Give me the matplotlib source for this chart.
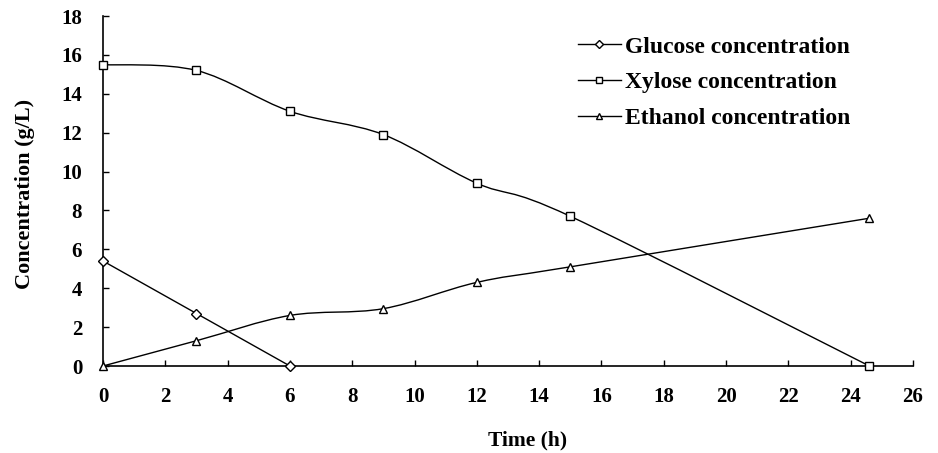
import matplotlib.pyplot as plt
from matplotlib.path import Path
from matplotlib.patches import PathPatch
from matplotlib.lines import Line2D

# Fermentation time course
time_glucose = [0, 3, 6]
glucose = [5.4, 2.7, 0.0]

time_long = [0, 3, 6, 9, 12, 15, 24.6]
xylose = [15.5, 15.2, 13.1, 11.9, 9.4, 7.7, 0.0]
ethanol = [0.0, 1.3, 2.6, 2.95, 4.3, 5.1, 7.6]

x_ticks = list(range(0, 27, 2))
y_ticks = list(range(0, 19, 2))

plt.rcParams['font.family'] = ['Liberation Serif', 'DejaVu Serif']
plt.rcParams['font.weight'] = 'bold'


def smooth_path(xs, ys):
    # cubic Bezier through the points, Catmull-Rom style control points
    pts = list(zip(xs, ys))
    n = len(pts)
    verts = [pts[0]]
    codes = [Path.MOVETO]
    for i in range(n - 1):
        p0 = pts[max(i - 1, 0)]
        p1 = pts[i]
        p2 = pts[i + 1]
        p3 = pts[min(i + 2, n - 1)]
        c1 = (p1[0] + (p2[0] - p0[0]) / 6, p1[1] + (p2[1] - p0[1]) / 6)
        c2 = (p2[0] - (p3[0] - p1[0]) / 6, p2[1] - (p3[1] - p1[1]) / 6)
        verts += [c1, c2, p2]
        codes += [Path.CURVE4] * 3
    return Path(verts, codes)


fig = plt.figure(figsize=(9.38, 4.53), dpi=100)
ax = fig.add_axes([103 / 938, 1 - 366 / 453, 810 / 938, 350 / 453])

series = [
    (time_glucose, glucose, 'D', 5, 'Glucose concentration'),
    (time_long, xylose, 's', 6, 'Xylose concentration'),
    (time_long, ethanol, '^', 6, 'Ethanol concentration'),
]
handles = []
for xs, ys, mk, ms, name in series:
    ax.add_patch(PathPatch(smooth_path(xs, ys), fill=False,
                           edgecolor='black', lw=1.0, zorder=2))
    ax.plot(xs, ys, ls='none', marker=mk, markersize=ms,
            markerfacecolor='white', markeredgecolor='black',
            markeredgewidth=1.0, zorder=3, clip_on=False)
    handles.append(Line2D([], [], color='black', lw=1.0, marker=mk,
                          markersize=ms - 1, markerfacecolor='white',
                          markeredgecolor='black', label=name))

ax.set_xlim(0, 26)
ax.set_ylim(0, 18)
ax.set_xticks(x_ticks)
ax.set_yticks(y_ticks)
ax.tick_params(direction='in', length=4, width=1, labelsize=15, pad=15)
for lbl in ax.get_xticklabels() + ax.get_yticklabels():
    lbl.set_fontweight('bold')
ax.spines['top'].set_visible(False)
ax.spines['right'].set_visible(False)
ax.spines['left'].set_linewidth(1.2)
ax.spines['bottom'].set_linewidth(1.2)

ax.set_xlabel('Time (h)', fontsize=15.5, fontweight='bold')
ax.xaxis.set_label_coords((528 - 103) / 810, -(440 - 366) / 350)
ax.xaxis.label.set_va('center')
ax.set_ylabel('Concentration (g/L)', fontsize=16, fontweight='bold')
ax.yaxis.set_label_coords(-(103 - 25) / 810, (366 - 194) / 350)
ax.yaxis.label.set_va('center')

ax.legend(handles=handles, loc='upper left',
          bbox_to_anchor=((578 - 103) / 810, (366 - 36) / 350),
          frameon=False, borderpad=0, borderaxespad=0,
          prop={'size': 17, 'weight': 'bold'}, handlelength=1.8,
          handletextpad=0.2, labelspacing=0.6)

fig.savefig('out.png', dpi=100)
